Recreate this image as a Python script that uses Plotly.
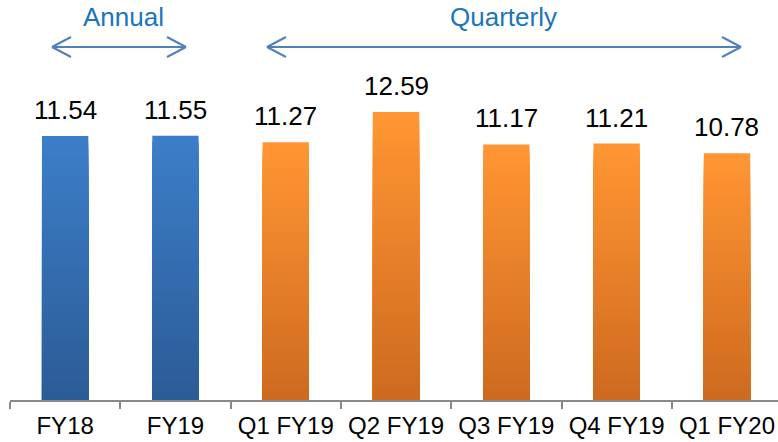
import plotly.graph_objects as go

categories = ["FY18", "FY19", "Q1 FY19", "Q2 FY19", "Q3 FY19", "Q4 FY19", "Q1 FY20"]
values = [11.54, 11.55, 11.27, 12.59, 11.17, 11.21, 10.78]
period = ["Annual", "Annual", "Quarterly", "Quarterly", "Quarterly", "Quarterly", "Quarterly"]

W, H = 778, 442
ML, MR, MT, MB = 10, 0, 0, 42
PW = W - ML - MR
PH = H - MT - MB

# gradient colours (top, bottom)
grad = {
    "Annual": ((0x3C, 0x7E, 0xC9), (0x2C, 0x5C, 0x96)),
    "Quarterly": ((0xFF, 0x96, 0x33), (0xCE, 0x6A, 0x1F)),
}

def mix(c1, c2, t):
    return "rgb(%d,%d,%d)" % tuple(round(a + (b - a) * t) for a, b in zip(c1, c2))

fig = go.Figure()
N = 40
for k in range(N):
    frac = 1 - k / N
    t = k / (N - 1)
    cols = [mix(grad[p][0], grad[p][1], t) for p in period]
    fig.add_trace(go.Bar(
        x=categories, y=[v * frac for v in values],
        marker=dict(color=cols, line=dict(width=0)),
        width=0.42, showlegend=False, hoverinfo="skip" if k else "x+y",
    ))

FONT = "Arial, Liberation Sans"

for c, v in zip(categories, values):
    fig.add_annotation(x=c, y=v, text=f"{v:.2f}", showarrow=False,
                       yanchor="bottom", yshift=9,
                       font=dict(size=26, color="#000000", family=FONT))

def px(x):
    return (x - ML) / PW

def py(y):
    return (H - MB - y) / PH

ARROW = "#4F81BD"

def arrow(x0, x1, y):
    shapes = [
        dict(type="line", xref="paper", yref="paper", x0=px(x0), x1=px(x1), y0=py(y), y1=py(y)),
        dict(type="line", xref="paper", yref="paper", x0=px(x0), x1=px(x0 + 19), y0=py(y), y1=py(y - 10)),
        dict(type="line", xref="paper", yref="paper", x0=px(x0), x1=px(x0 + 19), y0=py(y), y1=py(y + 10)),
        dict(type="line", xref="paper", yref="paper", x0=px(x1), x1=px(x1 - 19), y0=py(y), y1=py(y - 10)),
        dict(type="line", xref="paper", yref="paper", x0=px(x1), x1=px(x1 - 19), y0=py(y), y1=py(y + 10)),
    ]
    for s in shapes:
        s["line"] = dict(color=ARROW, width=2)
        fig.add_shape(**s)

arrow(52, 186, 47)
arrow(267, 741, 47)

for txt, cx in [("Annual", 123), ("Quarterly", 503)]:
    fig.add_annotation(xref="paper", yref="paper", x=px(cx), y=py(17), text=txt,
                       showarrow=False, xanchor="center", yanchor="middle",
                       font=dict(size=26, color="#1B75BC", family=FONT))

fig.update_layout(
    width=W, height=H,
    margin=dict(l=ML, r=MR, t=MT, b=MB),
    barmode="overlay",
    plot_bgcolor="white", paper_bgcolor="white",
    font=dict(family=FONT, size=24, color="#000000"),
)
fig.update_xaxes(
    type="category", range=[-0.5, -0.5 + PW / 110.3],
    showline=True, linecolor="#898989", linewidth=2,
    ticks="outside", tickson="boundaries", ticklen=7, tickcolor="#898989", tickwidth=2,
    tickfont=dict(size=24, color="#000000", family=FONT), showgrid=False,
    ticklabelstandoff=3,
)
fig.update_yaxes(range=[0, PH / 22.88], visible=False, showgrid=False)

fig.write_html("out.html")
